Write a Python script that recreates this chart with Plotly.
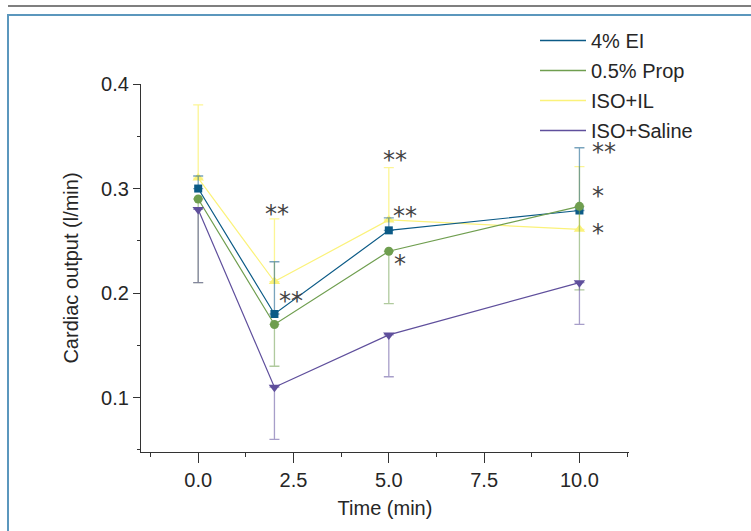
import plotly.graph_objects as go

# ---- data ----
time_min = [0, 2, 5, 10]

ei_values = [0.30, 0.18, 0.26, 0.279]
ei_err_up = [0.012, 0.05, 0.012, 0.06]

prop_values = [0.29, 0.17, 0.24, 0.283]
prop_err_down = [0.08, 0.04, 0.05, 0.08]

il_values = [0.31, 0.211, 0.27, 0.261]
il_err_up = [0.07, 0.06, 0.05, 0.06]

saline_values = [0.28, 0.11, 0.16, 0.21]
saline_err_down = [0.07, 0.05, 0.04, 0.04]

series_names = ["4% EI", "0.5% Prop", "ISO+IL", "ISO+Saline"]

# significance marks: (x, y, text)
sig_x = [2.06, 2.43, 5.16, 5.43, 5.30, 10.65, 10.49, 10.49]
sig_y = [0.279, 0.195, 0.330, 0.277, 0.231, 0.338, 0.296, 0.260]
sig_text = ["**", "**", "**", "**", "*", "**", "*", "*"]

# ---- styles ----
C_EI = "#0b5a86"
C_PROP = "#6f9e4f"
C_IL = "#fbf27a"
C_SAL = "#5f4f9c"
EB_EI = "rgba(11,90,134,0.55)"
EB_PROP = "rgba(111,158,79,0.55)"
EB_IL = "rgba(251,242,122,0.8)"
EB_SAL = "rgba(95,79,156,0.55)"

FONT = "Liberation Sans, Arial, sans-serif"
TXT = "#262626"
FS = 20

fig = go.Figure()

# draw order: IL, EI, Prop, Saline
fig.add_trace(go.Scatter(
    x=time_min, y=il_values, mode="lines+markers", name=series_names[2],
    line=dict(color=C_IL, width=1.2),
    marker=dict(symbol="triangle-up", size=10, color=C_IL),
    error_y=dict(type="data", symmetric=False, array=il_err_up,
                 arrayminus=[0] * len(il_err_up), color=EB_IL, thickness=1.3, width=5),
    showlegend=False))
fig.add_trace(go.Scatter(
    x=time_min, y=ei_values, mode="lines+markers", name=series_names[0],
    line=dict(color=C_EI, width=1.2),
    marker=dict(symbol="square", size=8, color=C_EI),
    error_y=dict(type="data", symmetric=False, array=ei_err_up,
                 arrayminus=[0] * len(ei_err_up), color=EB_EI, thickness=1.3, width=5),
    showlegend=False))
fig.add_trace(go.Scatter(
    x=time_min, y=prop_values, mode="lines+markers", name=series_names[1],
    line=dict(color=C_PROP, width=1.2),
    marker=dict(symbol="circle", size=9, color=C_PROP),
    error_y=dict(type="data", symmetric=False, array=[0] * len(prop_err_down),
                 arrayminus=prop_err_down, color=EB_PROP, thickness=1.3, width=5),
    showlegend=False))
fig.add_trace(go.Scatter(
    x=time_min, y=saline_values, mode="lines+markers", name=series_names[3],
    line=dict(color=C_SAL, width=1.2),
    marker=dict(symbol="triangle-down", size=10, color=C_SAL),
    error_y=dict(type="data", symmetric=False, array=[0] * len(saline_err_down),
                 arrayminus=saline_err_down, color=EB_SAL, thickness=1.3, width=5),
    showlegend=False))

# legend entries (line only)
for i, (nm, col) in enumerate(zip(series_names, [C_EI, C_PROP, C_IL, C_SAL])):
    fig.add_trace(go.Scatter(x=[None], y=[None], mode="lines", name=nm,
                             line=dict(color=col, width=1.5),
                             legendgroup=f"g{i}", showlegend=True))

for sx, sy, st in zip(sig_x, sig_y, sig_text):
    fig.add_annotation(x=sx, y=sy, text=st, yshift=-3,
                       showarrow=False, xref="x", yref="y",
                       font=dict(family="DejaVu Sans", size=24, color="#444"))

L, R, T, B = 141, 122, 84, 79
W, H = 751, 531
pw, ph = W - L - R, H - T - B

def px_x(p):
    return (p - L) / pw

def px_y(p):
    return (H - B - p) / ph

fig.add_shape(type="line", xref="paper", yref="paper",
              x0=px_x(8), x1=px_x(760), y0=px_y(6), y1=px_y(6),
              line=dict(color="#555555", width=1.5))
fig.add_shape(type="rect", xref="paper", yref="paper",
              x0=px_x(8), x1=px_x(770), y0=px_y(15), y1=px_y(560),
              line=dict(color="#5b97bd", width=2))

fig.update_layout(
    width=W, height=H,
    margin=dict(l=L, r=R, t=T, b=B, pad=0),
    paper_bgcolor="white", plot_bgcolor="white",
    font=dict(family=FONT, size=FS, color=TXT),
    legend=dict(x=px_x(535), y=px_y(21), xanchor="left", yanchor="top",
                bgcolor="rgba(0,0,0,0)", font=dict(size=FS, family=FONT, color=TXT),
                tracegroupgap=1, traceorder="grouped", itemwidth=46),
    xaxis=dict(range=[-1.5, 11.3], tickvals=[0, 2.5, 5, 7.5, 10],
               ticktext=["0.0", "2.5", "5.0", "7.5", "10.0"],
               showgrid=False, zeroline=False, showline=True, linecolor="#333",
               linewidth=1.3, ticks="outside", ticklen=10, tickcolor="#333",
               tickwidth=1.2,
               minor=dict(ticks="outside", ticklen=4, tick0=0, dtick=1.25,
                          tickcolor="#333", tickwidth=1.2, showgrid=False),
               title=dict(text="Time (min)", standoff=10, font=dict(size=FS)),
               tickfont=dict(size=FS)),
    yaxis=dict(range=[0.048, 0.4], tickvals=[0.1, 0.2, 0.3, 0.4],
               ticktext=["0.1", "0.2", "0.3", "0.4"],
               showgrid=False, zeroline=False, showline=True, linecolor="#333",
               linewidth=1.3, ticks="outside", ticklen=7, tickcolor="#333",
               tickwidth=1.2,
               minor=dict(ticks="outside", ticklen=3, tick0=0, dtick=0.05,
                          tickcolor="#333", tickwidth=1.2, showgrid=False),
               title=dict(text="Cardiac output (l/min)", standoff=17, font=dict(size=FS)),
               tickfont=dict(size=FS)),
)

fig.write_html("out.html", config={"displayModeBar": False},
               post_script="document.body.style.margin='0';")
